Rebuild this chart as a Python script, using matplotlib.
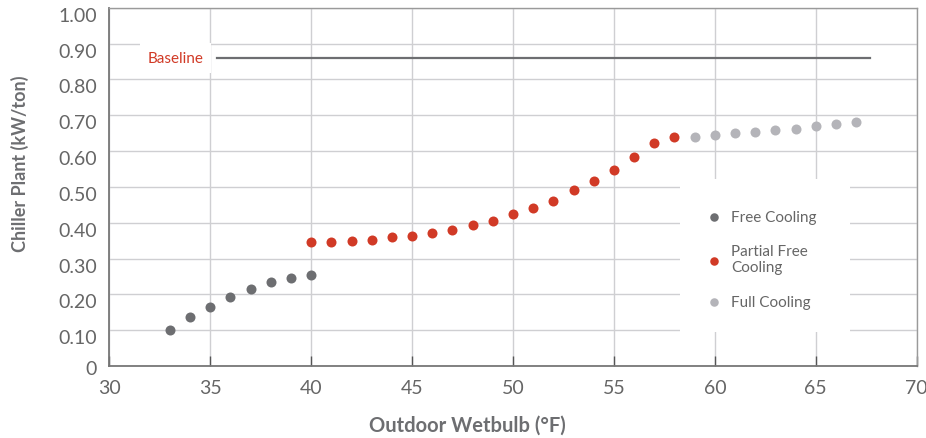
"""
Chiller plant efficiency vs outdoor wetbulb temperature,
split by cooling mode (free / partial free / full).
"""
import matplotlib
matplotlib.use("Agg")
import matplotlib.pyplot as plt
import matplotlib.transforms as mtransforms
from matplotlib.patches import Rectangle

plt.rcParams["font.family"] = ["Lato", "DejaVu Sans"]

# ── Data ──────────────────────────────────────────────────────────────────────
free_x = [33, 34, 35, 36, 37, 38, 39, 40]
free_y = [0.100, 0.136, 0.165, 0.193, 0.215, 0.235, 0.246, 0.253]

partial_x = [40, 41, 42, 43, 44, 45, 46, 47, 48, 49, 50,
             51, 52, 53, 54, 55, 56, 57, 58]
partial_y = [0.347, 0.347, 0.350, 0.353, 0.359, 0.364, 0.372, 0.381, 0.394,
             0.406, 0.425, 0.441, 0.462, 0.491, 0.517, 0.548, 0.584, 0.622,
             0.639]

full_x = [59, 60, 61, 62, 63, 64, 65, 66, 67]
full_y = [0.638, 0.644, 0.651, 0.654, 0.660, 0.663, 0.670, 0.676, 0.680]

baseline_x = [35.35, 67.7]
baseline_y = 0.86

x_ticks = [30, 35, 40, 45, 50, 55, 60, 65, 70]
y_ticks = [0, 0.1, 0.2, 0.3, 0.4, 0.5, 0.6, 0.7, 0.8, 0.9, 1.0]
y_tick_labels = ["0", "0.10", "0.20", "0.30", "0.40", "0.50",
                 "0.60", "0.70", "0.80", "0.90", "1.00"]

# ── Style ─────────────────────────────────────────────────────────────────────
C_FREE = "#6d6e71"
C_PARTIAL = "#d13a26"
C_FULL = "#b4b4b9"
C_TEXT = "#666666"
C_GRID = "#cfcfd2"

fig = plt.figure(figsize=(9.26, 4.39), dpi=100)
ax = fig.add_axes([0.118, 0.164, 0.872, 0.816])

ax.set_xlim(30, 70)
ax.set_ylim(0, 1.0)
ax.set_axisbelow(True)
ax.grid(True, color=C_GRID, linewidth=1.0)

# white legend panel hides the grid behind it
ax.add_patch(Rectangle((0.7067, 0.095), 0.2103, 0.427, transform=ax.transAxes,
                       facecolor="white", edgecolor="none", zorder=1))

ms = 52
ax.scatter(free_x, free_y, s=ms, color=C_FREE, zorder=3,
           linewidths=0, label="Free Cooling")
ax.scatter(partial_x, partial_y, s=ms, color=C_PARTIAL, zorder=3,
           linewidths=0, label="Partial Free\nCooling")
ax.scatter(full_x, full_y, s=ms, color=C_FULL, zorder=3,
           linewidths=0, label="Full Cooling")

# baseline
ax.plot(baseline_x, [baseline_y, baseline_y], color=C_FREE, linewidth=1.6,
        zorder=3)
ax.text(34.65, baseline_y, "Baseline", color=C_PARTIAL, fontsize=11,
        ha="right", va="center", zorder=4,
        bbox=dict(boxstyle="square,pad=0.5", facecolor="white",
                  edgecolor="none"))

# ── Axes ──────────────────────────────────────────────────────────────────────
ax.set_xticks(x_ticks)
ax.set_yticks(y_ticks)
ax.set_yticklabels(y_tick_labels)
ax.tick_params(axis="x", direction="in", length=7, width=1, color="#555555",
               pad=9, labelsize=14, labelcolor=C_TEXT)
ax.tick_params(axis="y", length=0, pad=9, labelsize=14, labelcolor=C_TEXT)

for side in ["left", "bottom"]:
    ax.spines[side].set_color("#777777")
    ax.spines[side].set_linewidth(1.3)
for side in ["top", "right"]:
    ax.spines[side].set_color("#9a9a9a")
    ax.spines[side].set_linewidth(1.0)

# y labels sit slightly below their gridlines in the original
for val, lab in zip(y_ticks, ax.get_yticklabels()):
    dy = -1 if val == 0 else -6
    lab.set_transform(lab.get_transform() +
                      mtransforms.ScaledTranslation(0, dy / 100, fig.dpi_scale_trans))

ax.set_xlabel("Outdoor Wetbulb (°F)", fontsize=14.5, fontweight="bold",
              color=C_FREE)
ax.xaxis.set_label_coords(0.443, -0.135)
ax.set_ylabel("Chiller Plant (kW/ton)", fontsize=13, fontweight="bold",
              color=C_FREE)
ax.yaxis.set_label_coords(-0.1, 0.568)

leg = ax.legend(loc="center left", bbox_to_anchor=(0.723, 0.298),
                frameon=False, fontsize=11, labelcolor=C_TEXT,
                handlelength=1.0, handletextpad=0.6, labelspacing=1.35,
                markerscale=0.85)
leg.set_zorder(5)

fig.savefig("out.png", dpi=100)
